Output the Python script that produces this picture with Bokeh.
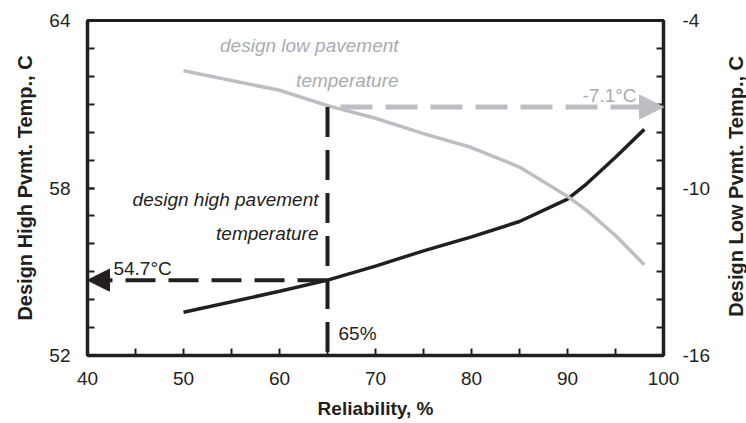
import math
from bokeh.plotting import figure
from bokeh.layouts import row
from bokeh.models import (Range1d, LinearAxis, FixedTicker, Arrow, NormalHead)
from bokeh.core.properties import value
from bokeh.embed import file_html
from bokeh.resources import INLINE

# ---- data ----
reliability = [50, 60, 65, 70, 75, 80, 85, 90, 92, 95, 98]
high_temp = [53.55, 54.3, 54.7, 55.2, 55.75, 56.25, 56.8, 57.6, 58.15, 59.1, 60.1]
low_temp = [-5.8, -6.5, -7.05, -7.5, -8.05, -8.55, -9.25, -10.3, -10.8, -11.7, -12.75]

sel_reliability = 65
sel_high = 54.7
sel_low = -7.1

x_ticks = [40, 50, 60, 70, 80, 90, 100]
x_minor = [45, 55, 65, 75, 85, 95]
high_ticks = [52, 58, 64]
low_ticks = [-16, -10, -4]
low_tick_labels = ["-16", "-10", "-4"]

BLACK = "#231f20"
GRAY = "#bcbec3"
GRAY_TXT = "#a9abb0"
FONT = "Liberation Sans"

p = figure(width=713, height=423, x_range=Range1d(40, 100), y_range=Range1d(52, 64),
           output_backend="svg", toolbar_location=None,
           min_border_left=87, min_border_right=50, min_border_top=20, min_border_bottom=68)
p.extra_y_ranges = {"low": Range1d(-16, -4)}
p.xgrid.visible = False
p.ygrid.visible = False
p.outline_line_color = BLACK
p.outline_line_width = 3
p.outline_line_alpha = 1
p.background_fill_color = "white"
p.border_fill_color = "white"

def style_axis(ax, size_title):
    ax.axis_line_color = BLACK
    ax.axis_line_width = 3.5
    ax.major_tick_in = 7
    ax.major_tick_out = 0
    ax.minor_tick_in = 7
    ax.minor_tick_out = 0
    ax.major_tick_line_color = BLACK
    ax.minor_tick_line_color = BLACK
    ax.major_tick_line_width = 2
    ax.minor_tick_line_width = 2
    ax.major_label_text_font = FONT
    ax.major_label_text_font_size = "19px"
    ax.major_label_text_color = BLACK
    ax.axis_label_text_font = FONT
    ax.axis_label_text_font_style = "bold"
    ax.axis_label_text_font_size = size_title
    ax.axis_label_text_color = BLACK

xa = p.xaxis[0]
xa.ticker = FixedTicker(ticks=x_ticks, minor_ticks=x_minor)
xa.axis_label = "Reliability, %"
style_axis(xa, "19px")
xa.major_label_standoff = 16
xa.axis_label_standoff = 10

ya = p.yaxis[0]
ya.ticker = FixedTicker(ticks=high_ticks, minor_ticks=list(range(52, 65)))
ya.axis_label = "Design High Pvmt. Temp., C"
style_axis(ya, "20px")
ya.major_label_standoff = 17
ya.axis_label_standoff = 10

ra = LinearAxis(y_range_name="low")
ra.ticker = FixedTicker(ticks=low_ticks, minor_ticks=list(range(-16, -3)))
ra.major_label_overrides = {t: s for t, s in zip(low_ticks, low_tick_labels)}
style_axis(ra, "20px")
ra.major_label_standoff = 19
p.add_layout(ra, "right")

# curves
p.line(reliability, high_temp, line_color=BLACK, line_width=3.5)
p.line(reliability, low_temp, line_color=GRAY, line_width=3.5, y_range_name="low")

# guides
p.line([sel_reliability, sel_reliability], [sel_low, -16], y_range_name="low",
       line_color=BLACK, line_width=4, line_dash="30 13")
p.add_layout(Arrow(end=NormalHead(size=22, fill_color=BLACK, line_color=BLACK, line_width=1),
                   x_start=sel_reliability, y_start=sel_high, x_end=40, y_end=sel_high,
                   line_color=BLACK, line_width=4, line_dash="30 13"))
p.add_layout(Arrow(end=NormalHead(size=24, fill_color=GRAY, line_color=GRAY, line_width=1),
                   x_start=sel_reliability, y_start=sel_low, x_end=100, y_end=sel_low,
                   y_range_name="low",
                   line_color=GRAY, line_width=5, line_dash="32 13", line_dash_offset=32))

# annotations
p.text(x=[72.4, 72.4], y=[-4.9, -6.15], text=["design low pavement", "temperature"],
       y_range_name="low", text_font=value(FONT), text_font_style="italic",
       text_font_size="19px", text_color=GRAY_TXT, text_align="right",
       text_baseline="alphabetic")
p.text(x=[64.06, 64.06], y=[57.59, 56.37], text=["design high pavement", "temperature"],
       text_font=value(FONT), text_font_style="italic",
       text_font_size="19px", text_color=BLACK, text_align="right",
       text_baseline="alphabetic")
p.text(x=[42.7], y=[55.12], text=["54.7°C"], text_font=value(FONT),
       text_font_size="19px", text_color=BLACK, text_align="left", text_baseline="alphabetic")
p.text(x=[66.15], y=[52.79], text=["65%"], text_font=value(FONT),
       text_font_size="19px", text_color=BLACK, text_align="left", text_baseline="alphabetic")
p.text(x=[91.56], y=[-6.69], text=["-7.1°C"], y_range_name="low", text_font=value(FONT),
       text_font_size="19px", text_color=GRAY_TXT, text_align="left", text_baseline="alphabetic")

# right-hand axis title (reads bottom-to-top, like the left one)
p2 = figure(width=33, height=423, x_range=Range1d(0, 1), y_range=Range1d(0, 1),
            output_backend="svg", toolbar_location=None, min_border=0)
p2.axis.visible = False
p2.grid.visible = False
p2.outline_line_color = None
p2.border_fill_color = "white"
p2.text(x=[0.667], y=[0.505], text=["Design Low Pvmt. Temp., C"], angle=math.pi / 2,
        text_font=value(FONT), text_font_style="bold", text_font_size="20px",
        text_color=BLACK, text_align="center", text_baseline="middle")

layout = row(p, p2)
open("out.html", "w").write(file_html(layout, INLINE))
